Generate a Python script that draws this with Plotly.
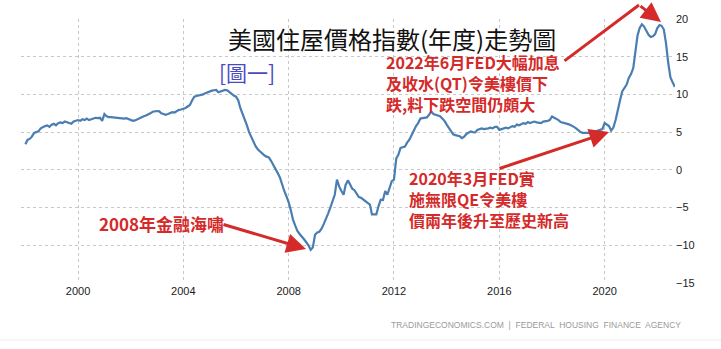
import pandas as pd
import plotly.graph_objects as go

# ---------------- data ----------------
start_month = "1998-01-01"
hpi_yoy = (
    [3.4, 4.0, 4.1, 4.4, 4.9, 5.0, 5.1, 5.5, 5.6, 5.8, 5.9, 5.7]            # 1998
    + [6.0, 6.1, 5.9, 6.2, 6.3, 6.2, 6.4, 6.3, 6.2, 6.1, 6.4, 6.5]          # 1999
    + [6.6, 6.5, 6.7, 6.6, 6.8, 6.6, 6.7, 6.8, 6.9, 6.85, 6.9, 6.5]         # 2000
    + [7.4, 7.1, 7.0, 7.0, 6.95, 6.9, 6.9, 6.85, 6.8, 6.8, 6.85, 6.7]       # 2001
    + [6.6, 6.5, 6.55, 6.7, 6.9, 7.0, 7.1, 7.2, 7.3, 7.5, 7.7, 7.8]         # 2002
    + [7.8, 7.75, 7.5, 7.4, 7.3, 7.4, 7.5, 7.65, 7.6, 7.8, 7.95, 8.0]       # 2003
    + [8.1, 8.2, 8.4, 8.6, 9.2, 9.7, 9.8, 9.85, 9.9, 10.0, 10.17, 10.3]     # 2004
    + [10.4, 10.5, 10.55, 10.6, 10.3, 10.4, 10.5, 10.6, 10.55, 10.3, 10.1, 9.85]  # 2005
    + [9.7, 9.2, 8.2, 7.5, 6.8, 5.9, 5.0, 4.3, 3.6, 3.1, 2.7, 2.4]          # 2006
    + [2.1, 1.9, 1.75, 1.65, 1.2, 0.7, 0.2, -0.4, -1.0, -2.0, -2.8, -3.5]   # 2007
    + [-4.3, -5.4, -6.6, -7.4, -8.1, -8.5, -8.8, -9.2, -9.6, -10.0, -10.6, -10.3]  # 2008
    + [-8.6, -8.3, -8.2, -7.8, -7.2, -6.6, -5.8, -5.0, -4.2, -3.3, -1.3, -2.2]     # 2009
    + [-2.8, -3.3, -2.0, -1.4, -1.9, -2.5, -2.7, -3.2, -3.6, -3.7, -3.95, -4.2]    # 2010
    + [-4.4, -4.6, -5.9, -5.9, -5.9, -4.8, -3.96, -4.0, -2.8, -3.3, -2.3, -1.5]    # 2011
    + [-1.3, 1.5, 2.0, 2.9, 3.0, 3.1, 3.6, 4.0, 4.6, 5.3, 5.8, 6.2]         # 2012
    + [6.8, 6.85, 6.9, 6.95, 7.3, 7.74, 7.4, 7.3, 7.2, 7.1, 6.8, 6.5]       # 2013
    + [6.0, 5.5, 5.1, 4.7, 4.6, 4.5, 4.45, 4.2, 4.4, 4.76, 4.9, 5.1]        # 2014
    + [5.0, 4.97, 5.3, 5.4, 5.5, 5.4, 5.5, 5.5, 5.6, 5.5, 5.7, 5.7]         # 2015
    + [5.3, 5.4, 5.5, 5.6, 5.5, 5.7, 5.8, 5.7, 6.0, 5.9, 6.1, 6.2]          # 2016
    + [6.1, 6.35, 6.2, 6.3, 6.4, 6.3, 6.3, 6.2, 6.4, 6.4, 6.5, 6.6]         # 2017
    + [7.07, 6.9, 6.8, 6.6, 6.35, 6.3, 6.2, 6.1, 6.0, 5.9, 5.7, 5.5]        # 2018
    + [5.2, 5.0, 4.9, 4.9, 4.8, 4.9, 4.9, 5.0, 5.1, 5.3, 5.4, 5.4]          # 2019
    + [6.2, 6.0, 5.8, 5.2, 5.6, 6.6, 8.0, 9.2, 10.4, 10.9, 11.3, 12.2]      # 2020
    + [12.7, 13.5, 15.9, 17.8, 18.8, 19.3, 19.0, 18.4, 17.9, 17.6, 17.7, 18.0]  # 2021
    + [18.8, 19.2, 19.1, 18.6, 16.8, 14.2, 12.3, 11.6, 11.0]                # 2022
)
x_tick_years = [2000, 2004, 2008, 2012, 2016, 2020]
y_ticks = [-15, -10, -5, 0, 5, 10, 15, 20]

title_text = "美國住屋價格指數(年度)走勢圖"
fig_label = "[圖一]"
note_2022 = ["2022年6月FED大幅加息", "及收水(QT)令美樓價下", "跌,料下跌空間仍頗大"]
note_2020 = ["2020年3月FED實", "施無限QE令美樓", "價兩年後升至歷史新高"]
note_2008 = "2008年金融海嘯"
source_text = "TRADINGECONOMICS.COM  |  FEDERAL  HOUSING  FINANCE  AGENCY"

dates = pd.date_range(start_month, periods=len(hpi_yoy), freq="MS")

# ---------------- layout geometry (pixels) ----------------
W, H = 721, 349
L, R, T, B = 21, 675, 19, 283


def px(x):
    return (x - L) / (R - L)


def py(y):
    return (B - y) / (B - T)


RED = "#d42a2a"
CJK = "Noto Sans CJK TC"

fig = go.Figure()
fig.add_trace(go.Scatter(
    x=dates, y=hpi_yoy, mode="lines",
    line=dict(color="#4a7db1", width=2.2),
    hoverinfo="skip", showlegend=False,
))

annotations = []
# title
annotations.append(dict(text=title_text, x=px(392), y=py(38), xref="paper", yref="paper",
                        xanchor="center", yanchor="middle", showarrow=False,
                        font=dict(family=CJK, size=24, color="#111")))
annotations.append(dict(text=fig_label, x=px(217), y=py(72), xref="paper", yref="paper",
                        xanchor="left", yanchor="middle", showarrow=False,
                        font=dict(family=CJK, size=21, color="#4a4ac0")))
annotations.append(dict(text="<br>".join(note_2022), x=px(384), y=py(83), xref="paper", yref="paper",
                        xanchor="left", yanchor="middle", align="left", showarrow=False,
                        font=dict(family=CJK, size=16, color=RED, weight="bold")))
annotations.append(dict(text="<br>".join(note_2020), x=px(407), y=py(199), xref="paper", yref="paper",
                        xanchor="left", yanchor="middle", align="left", showarrow=False,
                        font=dict(family=CJK, size=16, color=RED, weight="bold")))
annotations.append(dict(text=note_2008, x=px(97), y=py(223), xref="paper", yref="paper",
                        xanchor="left", yanchor="middle", showarrow=False,
                        font=dict(family=CJK, size=17, color=RED, weight="bold")))


def arrow(tail, tip, head=2):
    return dict(text="", x=px(tip[0]), y=py(tip[1]), xref="paper", yref="paper",
                ax=tail[0] - tip[0], ay=tail[1] - tip[1], axref="pixel", ayref="pixel",
                showarrow=True, arrowhead=head, arrowsize=1.3, arrowwidth=3,
                arrowcolor=RED, standoff=0, startstandoff=0)


annotations.append(arrow((563, 62), (639, 5), head=0))
annotations.append(arrow((639, 5), (661, 22)))
annotations.append(arrow((498, 169), (609, 132)))
annotations.append(arrow((222, 224), (306, 249)))

annotations.append(dict(text=source_text, x=px(683), y=py(325), xref="paper", yref="paper",
                        xanchor="right", yanchor="middle", showarrow=False,
                        font=dict(family="Liberation Sans", size=8.5, color="#9a9a9a")))

shapes = [dict(type="line", xref="paper", yref="paper", x0=px(0), x1=px(W), y0=py(340), y1=py(340),
               line=dict(color="#ececec", width=1))]

fig.update_layout(
    width=W, height=H,
    margin=dict(l=L, r=W - R, t=T, b=H - B),
    paper_bgcolor="white", plot_bgcolor="white",
    annotations=annotations, shapes=shapes,
    xaxis=dict(
        type="date",
        range=["1997-11-01", "2022-09-03"],
        tickvals=[f"{yr}-01-01" for yr in x_tick_years],
        ticktext=[str(yr) for yr in x_tick_years],
        showgrid=True, gridcolor="#c8c8c8", griddash="dot", gridwidth=1,
        zeroline=False, showline=False, ticks="",
        tickfont=dict(family="Liberation Sans", size=11, color="#222"),
    ),
    yaxis=dict(
        range=[-15, 20], side="right",
        tickvals=y_ticks,
        showgrid=True, gridcolor="#c8c8c8", griddash="dot", gridwidth=1,
        zeroline=False, showline=False, ticks="",
        tickfont=dict(family="Liberation Sans", size=11, color="#222"),
    ),
)

fig.write_html("out.html")
